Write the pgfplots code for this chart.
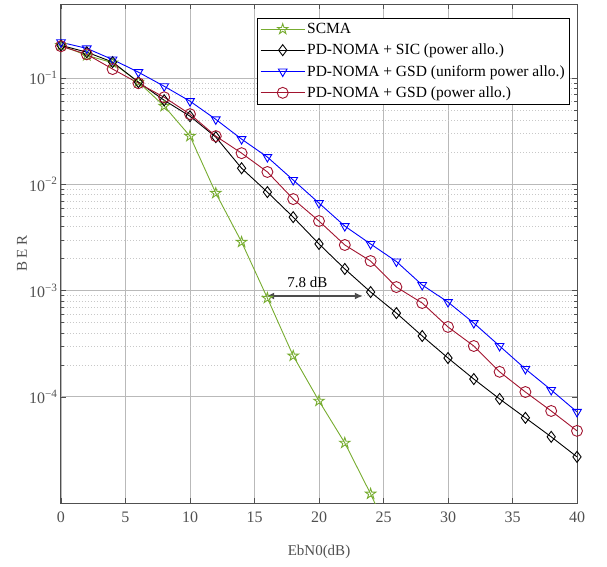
\documentclass[border=0pt]{standalone}
\usepackage{fontspec}
\setmainfont{Liberation Serif}
\usepackage{pgfplots}
\pgfplotsset{compat=1.18}
\usetikzlibrary{arrows.meta}

\pgfdeclareplotmark{pentagram}{%
  \pgfpathmoveto{\pgfqpointpolar{90}{\pgfplotmarksize}}%
  \pgfpathlineto{\pgfqpointpolar{126}{0.382\pgfplotmarksize}}%
  \pgfpathlineto{\pgfqpointpolar{162}{\pgfplotmarksize}}%
  \pgfpathlineto{\pgfqpointpolar{198}{0.382\pgfplotmarksize}}%
  \pgfpathlineto{\pgfqpointpolar{234}{\pgfplotmarksize}}%
  \pgfpathlineto{\pgfqpointpolar{270}{0.382\pgfplotmarksize}}%
  \pgfpathlineto{\pgfqpointpolar{306}{\pgfplotmarksize}}%
  \pgfpathlineto{\pgfqpointpolar{342}{0.382\pgfplotmarksize}}%
  \pgfpathlineto{\pgfqpointpolar{18}{\pgfplotmarksize}}%
  \pgfpathlineto{\pgfqpointpolar{54}{0.382\pgfplotmarksize}}%
  \pgfpathclose
  \pgfusepathqstroke
}

\definecolor{mgreen}{rgb}{0.466,0.674,0.188}
\definecolor{mred}{rgb}{0.635,0.078,0.184}
\definecolor{gridgray}{RGB}{185,185,185}
\definecolor{minorgray}{RGB}{200,200,200}
\definecolor{axgray}{RGB}{80,80,80}

\begin{document}
\begin{tikzpicture}
\begin{axis}[
  scale only axis, width=516pt, height=499pt,
  at={(0pt,0pt)}, anchor=south west,
  xmin=0, xmax=40, ymin=1e-5, ymax=0.5, ymode=log,
  xtick={0,5,...,40},
  ytick={1e-4,1e-3,1e-2,1e-1},
  yticklabels={10\textsuperscript{−4},10\textsuperscript{−3},10\textsuperscript{−2},10\textsuperscript{−1}},
  /pgf/number format/assume math mode=true,
  tick label style={font=\fontsize{16}{18}\selectfont, text=axgray},
  xticklabel style={yshift=-5pt},
  xmajorgrids, ymajorgrids, yminorgrids,
  major grid style={gridgray, line width=0.9pt},
  minor grid style={minorgray, dash pattern=on 1pt off 2pt, line width=0.7pt},
  axis line style={axgray, line width=1pt},
  tick style={axgray, line width=0.6pt},
  tick align=inside, major tick length=5pt, minor tick length=3pt,
  xlabel={EbN0(dB)}, ylabel={B E R},
  label style={font=\fontsize{15}{17}\selectfont, text=axgray},
  x label style={at={(axis description cs:0.5,-0.098)}, anchor=center},
  y label style={at={(axis description cs:-0.0756,0.5)}, anchor=center},
  legend cell align=left,
  legend style={at={(axis description cs:0.3798,0.972)}, anchor=north west,
    font=\fontsize{15.5}{17}\selectfont, draw=black, line width=0.6pt, fill=white,
    inner sep=3pt, row sep=5pt},
  legend image code/.code={\draw[mark repeat=2,mark phase=2,#1] plot coordinates {(0pt,0pt) (22pt,0pt) (44pt,0pt)};},
]
\addplot[color=mgreen, mark=pentagram, mark size=5.5pt, line width=0.9pt, mark options={solid}] coordinates {
(0,0.204) (2,0.164) (4,0.140) (6,0.092) (8,0.0546) (10,0.0285) (12,0.00828) (14,0.00287)
(16,0.00085) (18,0.000243) (20,0.0000914) (22,0.0000368) (24,0.0000122) (26,0.0000036)};
\addlegendentry{SCMA}
\addplot[color=black, mark=diamond, mark size=5.5pt, line width=0.9pt, mark options={solid}] coordinates {
(0,0.204) (2,0.176) (4,0.142) (6,0.092) (8,0.062) (10,0.0439) (12,0.0279) (14,0.0142)
(16,0.00847) (18,0.00492) (20,0.00275) (22,0.0016) (24,0.00097) (26,0.000615) (28,0.000374)
(30,0.000232) (32,0.000147) (34,0.0000955) (36,0.0000634) (38,0.000042) (40,0.0000272)};
\addlegendentry{PD-NOMA + SIC (power allo.)}
\addplot[color=blue, mark=triangle, mark size=5pt, line width=0.9pt, mark options={solid, rotate=180}] coordinates {
(0,0.218) (2,0.191) (4,0.150) (6,0.114) (8,0.084) (10,0.0608) (12,0.041) (14,0.0267)
(16,0.0181) (18,0.0110) (20,0.00667) (22,0.00405) (24,0.00275) (26,0.00188) (28,0.00113)
(30,0.00078) (32,0.000495) (34,0.000301) (36,0.000183) (38,0.000116) (40,0.0000721)};
\addlegendentry{PD-NOMA + GSD (uniform power allo.)}
\addplot[color=mred, mark=o, mark size=5.5pt, line width=0.9pt, mark options={solid}] coordinates {
(0,0.200) (2,0.168) (4,0.122) (6,0.0898) (8,0.0662) (10,0.0459) (12,0.0285) (14,0.0197)
(16,0.0131) (18,0.00728) (20,0.00452) (22,0.00269) (24,0.00190) (26,0.00108) (28,0.000764)
(30,0.000455) (32,0.000301) (34,0.000172) (36,0.000111) (38,0.0000736) (40,0.0000478)};
\addlegendentry{PD-NOMA + GSD (power allo.)}
\draw[{Latex[length=8pt,width=7pt]}-{Latex[length=8pt,width=7pt]}, line width=1.5pt, black!70]
  (axis cs:15.9,8.9e-4) -- (axis cs:23.4,8.9e-4);
\node[font=\fontsize{15}{17}\selectfont] at (axis cs:19.1,1.2e-3) {7.8 dB};
\end{axis}
\path (-61pt,-63pt) rectangle (546pt,503pt);
\end{tikzpicture}
\end{document}
